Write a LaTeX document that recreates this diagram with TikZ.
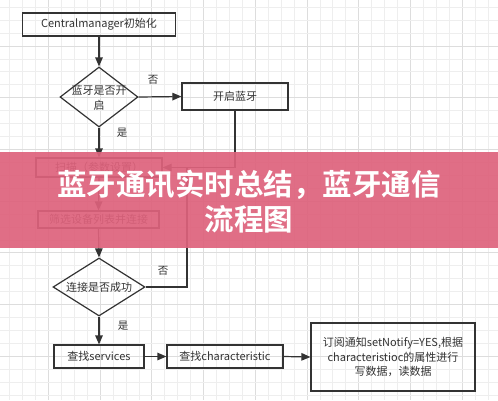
\documentclass[tikz,border=0pt]{standalone}
\usepackage{fontspec}
\setmainfont{Noto Sans CJK SC}
\newfontfamily\cjkbold{Noto Sans CJK SC Bold}
\usetikzlibrary{arrows.meta,shapes.geometric}
\definecolor{lnc}{HTML}{333333}
\definecolor{gridminor}{HTML}{EEEEEE}
\definecolor{gridmajor}{HTML}{DDDDDD}
\definecolor{bandc}{RGB}{222,98,124}
\tikzset{
  box/.style={draw=lnc,line width=1.2pt,fill=none,inner sep=0pt,text=lnc,font=\fontsize{11}{14}\selectfont},
  dia/.style={draw=lnc,line width=1.2pt,shape=diamond,inner sep=0pt,aspect=1.3},
  txt/.style={text=lnc,font=\fontsize{11}{15}\selectfont,inner sep=0pt,align=center},
  conn/.style={draw=lnc,line width=1.2pt},
  arr/.style={conn,-{Triangle[length=9pt,width=7.5pt]}},
  lbl/.style={text=lnc,font=\fontsize{10.5}{12}\selectfont,inner sep=0pt},
  minorline/.style={draw=gridminor,line width=0.8pt},
  majorline/.style={draw=gridmajor,line width=0.9pt},
}
\begin{document}
\begin{tikzpicture}[x=1pt,y=-1pt]
\useasboundingbox (0,0) rectangle (498,400);
\fill[white] (0,0) rectangle (498,400);
% grid
\foreach \i in {0,...,38}{
  \pgfmathtruncatemacro{\m}{mod(\i,4)}
  \ifnum\m=3
    \draw[majorline] ({9.6+12.93*\i},0) -- ({9.6+12.93*\i},400);
  \else
    \draw[minorline] ({9.6+12.93*\i},0) -- ({9.6+12.93*\i},400);
  \fi
}
\foreach \i in {0,...,31}{
  \pgfmathtruncatemacro{\m}{mod(\i,4)}
  \ifnum\m=3
    \draw[majorline] (0,{7.2+12.93*\i}) -- (498,{7.2+12.93*\i});
  \else
    \draw[minorline] (0,{7.2+12.93*\i}) -- (498,{7.2+12.93*\i});
  \fi
}
% nodes
\node[box,minimum width=153pt,minimum height=23pt] (n1) at (99,24.5) {Centralmanager初始化};
\node[dia,minimum width=78pt,minimum height=60pt] (d1) at (99,97) {};
\node[txt] (d1t) at (99,97.5) {蓝牙是否开\\启};
\node[box,minimum width=106pt,minimum height=27pt] (n2) at (235,96.5) {开启蓝牙};
\node[box,minimum width=126pt,minimum height=19pt] (n3) at (99,167.5) {扫描（参数设置）};
\node[box,minimum width=121pt,minimum height=17pt] (n4) at (98.5,219.5) {筛选设备列表并连接};
\node[dia,minimum width=92pt,minimum height=58pt] (d2) at (99,287) {};
\node[txt] (d2t) at (99,287) {连接是否成功};
\node[box,minimum width=90pt,minimum height=23pt] (n5) at (99,356.5) {查找services};
\node[box,minimum width=116pt,minimum height=23pt] (n6) at (225,356.5) {查找characteristic};
\node[box,minimum width=164pt,minimum height=68pt,align=center,font=\fontsize{11}{14.5}\selectfont] (n7) at (393,357) {订阅通知setNotify=YES,根据\\characteristioc的属性进行\\写数据，读数据};
% junction coordinates
\coordinate (j1) at (235,167.5);
\coordinate (j2) at (187,287);
\coordinate (j3) at (187,167.5);
% connectors
\draw[arr] (n1.south) -- (d1.north);
\draw[arr] (d1.east) -- (n2.west);
\draw[arr] (d1.south) -- (n3.north);
\draw[conn] (n2.south) -- (j1) -- (j3);
\draw[arr] (d2.east) -- (j2) -- (j3) -- (n3.east);
\draw[arr] (n3.south) -- (n4.north);
\draw[arr] (n4.south) -- (d2.north);
\draw[arr] (d2.south) -- (n5.north);
\draw[arr] (n5.east) -- (n6.west);
\draw[arr] (n6.east) -- (n7.west);
% labels
\node[lbl] (l1) at (153,80) {否};
\node[lbl] (l2) at (122,133) {是};
\node[lbl] (l3) at (163,271) {否};
\node[lbl] (l4) at (123,326) {是};
% overlay band
\fill[bandc,fill opacity=0.92] (0,152) rectangle (498,248);
\node[text=white,font=\cjkbold\fontsize{29.5}{35}\selectfont,align=center,inner sep=0pt] (title) at (249,202) {蓝牙通讯实时总结，蓝牙通信\\流程图};
\end{tikzpicture}
\end{document}
